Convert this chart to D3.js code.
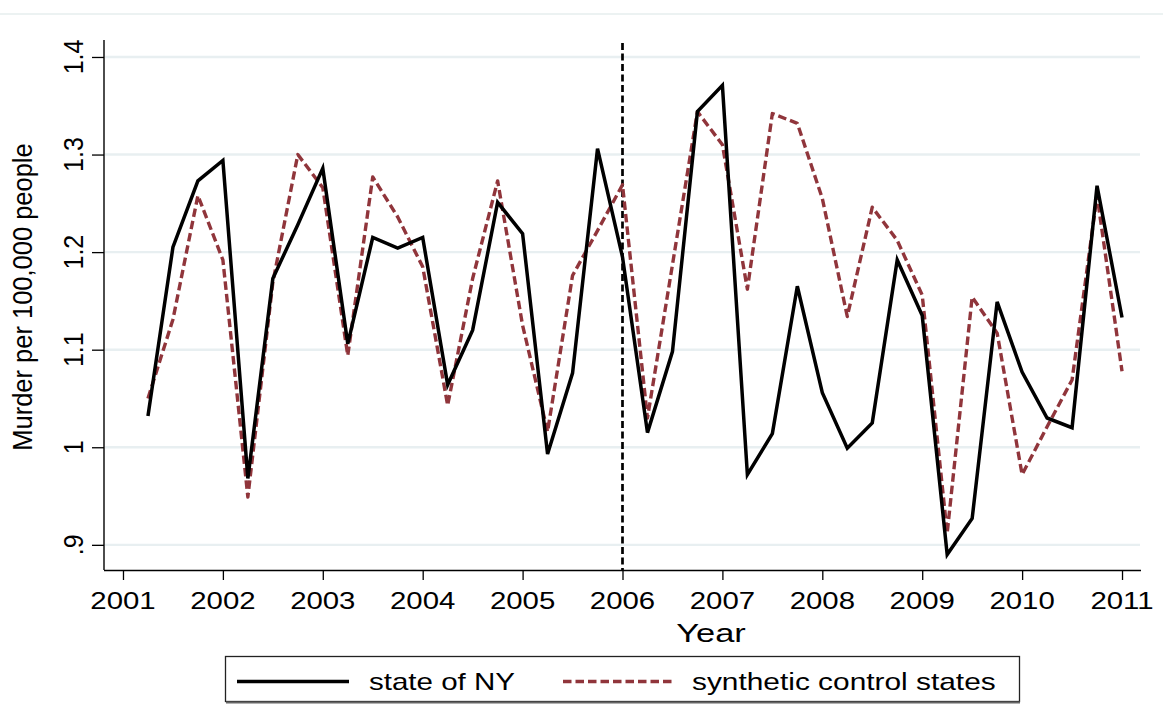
<!DOCTYPE html>
<html>
<head>
<meta charset="utf-8">
<script src="https://cdn.jsdelivr.net/npm/d3@7"></script>
<style>
    body { margin: 0; background: #fff; }
    text { font-family: "Liberation Sans", Arial, sans-serif; fill: #000; }
</style>
</head>
<body>
<div id="chart"></div>
<script>
'use strict';

// quarterly observations, 2001 Q2 .. 2011 Q1
const periods = [
    2001.25, 2001.5, 2001.75,
    2002.0, 2002.25, 2002.5, 2002.75,
    2003.0, 2003.25, 2003.5, 2003.75,
    2004.0, 2004.25, 2004.5, 2004.75,
    2005.0, 2005.25, 2005.5, 2005.75,
    2006.0, 2006.25, 2006.5, 2006.75,
    2007.0, 2007.25, 2007.5, 2007.75,
    2008.0, 2008.25, 2008.5, 2008.75,
    2009.0, 2009.25, 2009.5, 2009.75,
    2010.0, 2010.25, 2010.5, 2010.75,
    2011.0
];

const stateNY = [
    1.032, 1.205, 1.273,
    1.294, 0.968, 1.173, 1.228,
    1.286, 1.106, 1.215, 1.204,
    1.215, 1.064, 1.120, 1.251,
    1.219, 0.993, 1.076, 1.306,
    1.195, 1.015, 1.098, 1.344,
    1.371, 0.972, 1.014, 1.165,
    1.056, 0.999, 1.025, 1.192,
    1.135, 0.890, 0.927, 1.149,
    1.077, 1.030, 1.020, 1.268,
    1.133
];

const synthetic = [
    1.050, 1.131, 1.258,
    1.192, 0.949, 1.169, 1.300,
    1.266, 1.094, 1.277, 1.236,
    1.185, 1.043, 1.173, 1.273,
    1.125, 1.016, 1.176, 1.222,
    1.269, 1.030, 1.187, 1.344,
    1.310, 1.162, 1.342, 1.332,
    1.255, 1.134, 1.246, 1.212,
    1.156, 0.912, 1.154, 1.117,
    0.972, 1.021, 1.069, 1.258,
    1.078
];

const yearTicks = [2001, 2002, 2003, 2004, 2005, 2006, 2007, 2008, 2009, 2010, 2011];
const valueTicks = [0.9, 1.0, 1.1, 1.2, 1.3, 1.4];
const valueLabels = ['.9', '1', '1.1', '1.2', '1.3', '1.4'];
const treatmentYear = 2006;

const seriesNames = ['state of NY', 'synthetic control states'];
const seriesColors = ['#000000', '#90353b'];

const width = 1163, height = 704;
const plot = {left: 104, right: 1141, top: 40, bottom: 570};

const svg = d3.select('#chart')
    .append('svg')
    .attr('width', width)
    .attr('height', height);

const x = d3.scaleLinear().domain([2000.81, 2011.19]).range([plot.left, plot.right]);
const y = d3.scaleLinear().domain([0.8742, 1.4174]).range([plot.bottom, plot.top]);

// faint frame line at the top of the graph region
svg.append('line')
    .attr('x1', 0).attr('x2', width)
    .attr('y1', 14).attr('y2', 14)
    .attr('stroke', '#e6eeee')
    .attr('stroke-width', 1.5);

// gridlines
svg.append('g')
    .selectAll('line')
    .data(valueTicks)
    .enter()
    .append('line')
    .attr('x1', plot.left + 1)
    .attr('x2', plot.right - 1)
    .attr('y1', d => y(d))
    .attr('y2', d => y(d))
    .attr('stroke', '#e8eff1')
    .attr('stroke-width', 2.4);

// axes
const xAxis = svg.append('g')
    .attr('transform', `translate(0,${plot.bottom})`)
    .call(d3.axisBottom(x).tickValues(yearTicks).tickSize(10).tickFormat(''));
xAxis.select('.domain').attr('d', `M${plot.left},0.5H${plot.right}`);

const yAxis = svg.append('g')
    .attr('transform', `translate(${plot.left},0)`)
    .call(d3.axisLeft(y).tickValues(valueTicks).tickSize(12).tickFormat(''));
yAxis.select('.domain').attr('d', `M0,${plot.top}V${plot.bottom}`);

svg.selectAll('.domain').attr('stroke', '#000').attr('stroke-width', 1.4);
svg.selectAll('.tick line').attr('stroke', '#000').attr('stroke-width', 1.3);

// x tick labels (stretched horizontally like the original export)
svg.append('g')
    .selectAll('text')
    .data(yearTicks)
    .enter()
    .append('text')
    .attr('transform', d => `translate(${x(d)},609) scale(1.25,1)`)
    .attr('text-anchor', 'middle')
    .style('font-size', '23.5px')
    .text(d => d);

// y tick labels, rotated
svg.append('g')
    .selectAll('text')
    .data(valueTicks)
    .enter()
    .append('text')
    .attr('transform', d => `translate(83,${y(d)}) scale(1.08,1) rotate(-90)`)
    .attr('text-anchor', 'middle')
    .style('font-size', '25px')
    .text((d, i) => valueLabels[i]);

// axis titles
svg.append('text')
    .attr('transform', 'translate(32,297) scale(1.05,1) rotate(-90)')
    .attr('text-anchor', 'middle')
    .style('font-size', '25.5px')
    .text('Murder per 100,000 people');

svg.append('text')
    .attr('transform', 'translate(711,642) scale(1.3,1)')
    .attr('text-anchor', 'middle')
    .style('font-size', '26.5px')
    .text('Year');

// treatment line
svg.append('line')
    .attr('x1', x(treatmentYear)).attr('x2', x(treatmentYear))
    .attr('y1', 43).attr('y2', plot.bottom)
    .attr('stroke', '#000')
    .attr('stroke-width', 2.7)
    .attr('stroke-dasharray', '7,3.5');

// series
const line = d3.line()
    .x((d, i) => x(periods[i]))
    .y(d => y(d));

svg.append('path')
    .datum(synthetic)
    .attr('d', line)
    .attr('fill', 'none')
    .attr('stroke', seriesColors[1])
    .attr('stroke-width', 3.4)
    .attr('stroke-linejoin', 'round')
    .attr('stroke-dasharray', '8.5,4');

svg.append('path')
    .datum(stateNY)
    .attr('d', line)
    .attr('fill', 'none')
    .attr('stroke', seriesColors[0])
    .attr('stroke-width', 3.5)
    .attr('stroke-linejoin', 'miter');

// legend
const legend = svg.append('g');
legend.append('rect')
    .attr('x', 225.5).attr('y', 656.5)
    .attr('width', 794).attr('height', 45)
    .attr('fill', '#fff')
    .attr('stroke', '#222')
    .attr('stroke-width', 1.3);
legend.append('line')
    .attr('x1', 226).attr('x2', 1020)
    .attr('y1', 702.5).attr('y2', 702.5)
    .attr('stroke', '#666')
    .attr('stroke-width', 2);

legend.append('line')
    .attr('x1', 237).attr('x2', 349)
    .attr('y1', 681.5).attr('y2', 681.5)
    .attr('stroke', seriesColors[0])
    .attr('stroke-width', 3.5);
legend.append('line')
    .attr('x1', 563).attr('x2', 675)
    .attr('y1', 681.5).attr('y2', 681.5)
    .attr('stroke', seriesColors[1])
    .attr('stroke-width', 3.4)
    .attr('stroke-dasharray', '8.5,4');

legend.append('text')
    .attr('transform', 'translate(369,690) scale(1.23,1)')
    .style('font-size', '24px')
    .text(seriesNames[0]);
legend.append('text')
    .attr('transform', 'translate(692,690) scale(1.245,1)')
    .style('font-size', '24px')
    .text(seriesNames[1]);
</script>
</body>
</html>
